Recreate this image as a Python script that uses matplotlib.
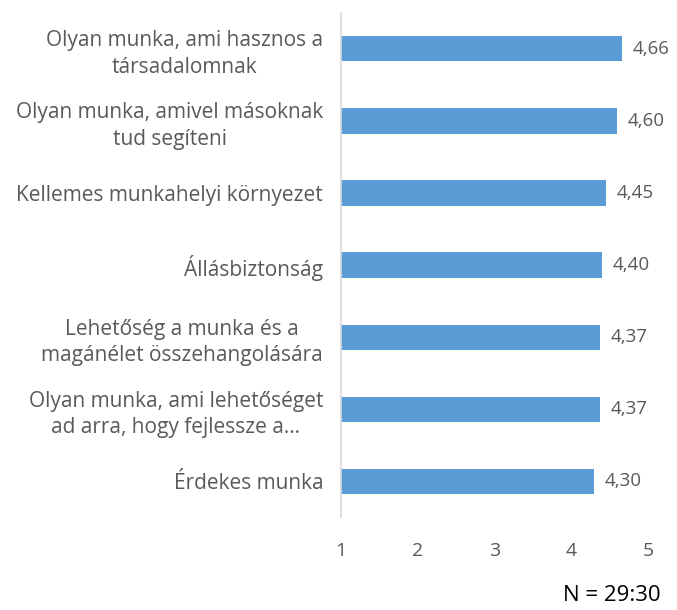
import matplotlib
matplotlib.use("Agg")
import matplotlib.pyplot as plt

categories = [
    "Olyan munka, ami hasznos a\ntársadalomnak",
    "Olyan munka, amivel másoknak\ntud segíteni",
    "Kellemes munkahelyi környezet",
    "Állásbiztonság",
    "Lehetőség a munka és a\nmagánélet összehangolására",
    "Olyan munka, ami lehetőséget\nad arra, hogy fejlessze a…",
    "Érdekes munka",
]
values = [4.66, 4.60, 4.45, 4.40, 4.37, 4.37, 4.30]
value_labels = ["4,66", "4,60", "4,45", "4,40", "4,37", "4,37", "4,30"]
xticks = [1, 2, 3, 4, 5]

plt.rcParams['font.family'] = ['Open Sans', 'DejaVu Sans']
gray = "#595959"

fig = plt.figure(figsize=(6.77, 6.1), dpi=100)
ax = fig.add_axes([0.504, 0.152, 0.453, 0.827])

pos = list(range(len(categories)))
ax.barh(pos, [v - 1 for v in values], left=1, height=0.35, color="#5B9BD5")
for p, v, lab in zip(pos, values, value_labels):
    ax.text(v + 0.14, p, lab, va="center", ha="left", fontsize=13.5, color=gray)

ax.set_xlim(1, 5)
ax.set_ylim(len(categories) - 0.5, -0.5)
ax.set_yticks(pos)
ax.set_yticklabels(categories, fontsize=15, color=gray, multialignment="center",
                   linespacing=1.35)
ax.set_xticks(xticks)
ax.set_xticklabels([str(t) for t in xticks], fontsize=14, color=gray)
ax.tick_params(axis="both", length=0)
ax.tick_params(axis="y", pad=13)
ax.tick_params(axis="x", pad=18)
for s in ["top", "right", "bottom"]:
    ax.spines[s].set_visible(False)
ax.spines["left"].set_color("#D9D9D9")
ax.spines["left"].set_linewidth(1.2)

fig.text(0.976, 0.024, "N = 29:30", ha="right", va="center", fontsize=16, color="black")

fig.savefig("out.png", dpi=100)
